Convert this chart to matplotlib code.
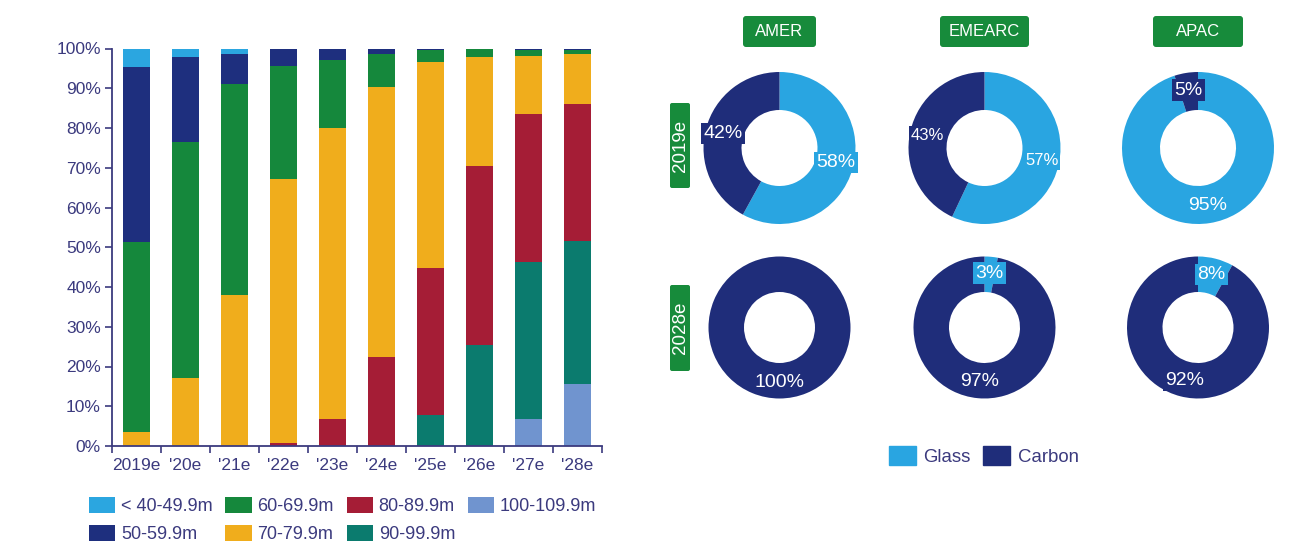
import matplotlib
matplotlib.use("Agg")
import matplotlib.pyplot as plt
import numpy as np
from matplotlib.patches import FancyBboxPatch, Patch
from matplotlib.ticker import FixedLocator, FuncFormatter

plt.rcParams['font.family'] = ['Liberation Sans', 'DejaVu Sans']

# ---------------- data ----------------
categories = ["2019e", "'20e", "'21e", "'22e", "'23e", "'24e", "'25e", "'26e", "'27e", "'28e"]
series_labels = ["< 40-49.9m", "50-59.9m", "60-69.9m", "70-79.9m", "80-89.9m", "90-99.9m", "100-109.9m"]
s_lt40 = [4.7, 2.2, 1.5, 0, 0, 0, 0, 0, 0, 0]
s_50 = [43.9, 21.4, 7.4, 4.5, 2.9, 1.5, 0.5, 0, 0.4, 0.4]
s_60 = [47.9, 59.4, 53.1, 28.3, 17.1, 8.2, 2.9, 2.2, 1.5, 1.1]
s_70 = [3.5, 17.0, 38.0, 66.4, 73.3, 67.9, 51.9, 27.3, 14.6, 12.4]
s_80 = [0, 0, 0, 0.8, 6.7, 22.4, 37.0, 45.1, 37.3, 34.6]
s_90 = [0, 0, 0, 0, 0, 0, 7.7, 25.4, 39.3, 36.0]
s_100 = [0, 0, 0, 0, 0, 0, 0, 0, 6.9, 15.5]
series_values = [s_lt40, s_50, s_60, s_70, s_80, s_90, s_100]
series_colors = ["#2ba6e0", "#1e2f7e", "#15883c", "#f0ad1c", "#a51d36", "#0b7b6e", "#7094cf"]

regions = ["AMER", "EMEARC", "APAC"]
years = ["2019e", "2028e"]
glass_2019 = [58, 57, 95]
carbon_2019 = [42, 43, 5]
glass_2028 = [0, 3, 8]
carbon_2028 = [100, 97, 92]
donut_labels = ["Glass", "Carbon"]

GLASS = "#29a5e1"
CARBON = "#1f2d7a"
HEAD_GREEN = "#178b3b"
TXT = "#3b3a7e"

W, H = 1301, 556
fig = plt.figure(figsize=(W / 100, H / 100), dpi=100)

# ---------------- stacked bar chart ----------------
ax = fig.add_axes([112 / W, 1 - 446 / H, 490 / W, 397.5 / H])
x = np.arange(len(categories))
bottom = np.zeros(len(categories))
handles = {}
for lab, vals, col in reversed(list(zip(series_labels, series_values, series_colors))):
    v = np.array(vals, dtype=float)
    b = ax.bar(x, v, bottom=bottom, width=0.56, color=col, label=lab, linewidth=0)
    handles[lab] = b
    bottom += v

ax.set_xlim(-0.5, len(categories) - 0.5)
ax.set_ylim(0, 100)
ax.set_yticks(np.arange(0, 101, 10))
ax.yaxis.set_major_formatter(FuncFormatter(lambda v, p: f"{int(v)}%"))
ax.set_xticks(x)
ax.set_xticklabels(categories)
ax.xaxis.set_minor_locator(FixedLocator(np.arange(-0.5, len(categories), 1.0)))
ax.tick_params(axis='x', which='major', length=0, pad=9, labelsize=12.5, labelcolor=TXT)
ax.tick_params(axis='x', which='minor', length=5, width=1.2, color=TXT, direction='out')
ax.tick_params(axis='y', which='major', length=5, width=1.2, color=TXT, labelsize=12.5,
               labelcolor=TXT, pad=3)
for s in ['top', 'right']:
    ax.spines[s].set_visible(False)
for s in ['left', 'bottom']:
    ax.spines[s].set_color(TXT)
    ax.spines[s].set_linewidth(1.3)

leg = fig.legend([handles[l] for l in series_labels], series_labels, ncol=4,
                 loc='upper left', bbox_to_anchor=(89 / W, 1 - 497 / H),
                 frameon=False, fontsize=13, handlelength=1.45, handleheight=1.0,
                 handletextpad=0.33, columnspacing=0.7, labelspacing=0.55, borderpad=0,
                 borderaxespad=0)
for t in leg.get_texts():
    t.set_color(TXT)

# ---------------- overlay for header boxes ----------------
ov = fig.add_axes([0, 0, 1, 1], zorder=-1)
ov.set_xlim(0, W)
ov.set_ylim(H, 0)
ov.axis('off')

col_cx = [779.5, 984.5, 1198]
head_w = [73, 89, 90]
for cx, hw, name in zip(col_cx, head_w, regions):
    ov.add_patch(FancyBboxPatch((cx - hw / 2 + 3, 16 + 3), hw - 6, 31 - 6,
                                boxstyle="round,pad=3", fc=HEAD_GREEN, ec='none'))
    ov.text(cx, 32, name, color='white', fontsize=12, ha='center', va='center')

row_cy = [145.5, 328]
row_h = [85, 86]
for cy, rh, yr in zip(row_cy, row_h, years):
    ov.add_patch(FancyBboxPatch((672, cy - rh / 2 + 2), 16, rh - 4,
                                boxstyle="round,pad=2", fc=HEAD_GREEN, ec='none'))
    ov.text(680.5, cy, yr, color='white', fontsize=13.5, ha='center', va='center',
            rotation=90)

# ---------------- donuts ----------------
donut_cy = [148, 327.5]
donut_r = [76, 71]
data_rows = [(glass_2019, carbon_2019), (glass_2028, carbon_2028)]
label_sizes = [[14, 12, 14], [14, 14, 14]]
for ri, (gvals, cvals) in enumerate(data_rows):
    for ci in range(3):
        cx, cy, R = col_cx[ci], donut_cy[ri], donut_r[ri]
        dax = fig.add_axes([(cx - R) / W, 1 - (cy + R) / H, 2 * R / W, 2 * R / H])
        vals = [gvals[ci], cvals[ci]]
        wedges, _ = dax.pie(vals, colors=[GLASS, CARBON], startangle=90, counterclock=False,
                            radius=1, wedgeprops=dict(width=0.5, edgecolor='none', linewidth=0))
        dax.set_xlim(-1, 1)
        dax.set_ylim(-1, 1)
        for w, v, col in zip(wedges, vals, [GLASS, CARBON]):
            if v <= 0:
                continue
            th = np.deg2rad((w.theta1 + w.theta2) / 2)
            r = 0.77
            dax.text(r * np.cos(th), r * np.sin(th), f"{v}%", color='white',
                     fontsize=label_sizes[ri][ci], ha='center', va='center',
                     bbox=dict(boxstyle='square,pad=0.12', fc=col, ec='none'), zorder=5)

dleg = fig.legend([Patch(color=GLASS), Patch(color=CARBON)], donut_labels, ncol=2,
                  loc='center left', bbox_to_anchor=(889 / W, 1 - 456 / H), frameon=False,
                  fontsize=13.4, handlelength=1.45, handleheight=1.13, handletextpad=0.38,
                  columnspacing=0.7, borderpad=0, borderaxespad=0)
for t in dleg.get_texts():
    t.set_color(TXT)

fig.savefig("out.png", dpi=100, facecolor='white')
